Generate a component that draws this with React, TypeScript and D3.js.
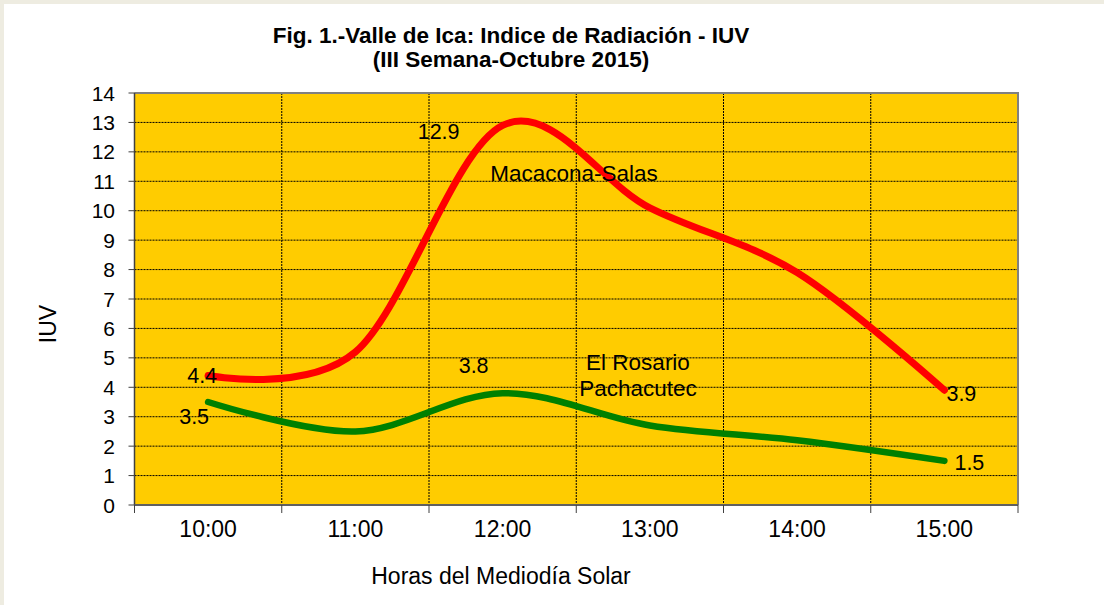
import React from "react";
import * as d3 from "d3";

const hours = ["10:00", "11:00", "12:00", "13:00", "14:00", "15:00"];
const macacona = [4.4, 5.2, 12.9, 10.1, 7.9, 3.9];
const rosario = [3.5, 2.5, 3.8, 2.7, 2.2, 1.5];
const yTicks = d3.range(0, 15);
const titleLines = ["Fig. 1.-Valle de Ica: Indice de Radiación - IUV", "(III Semana-Octubre 2015)"];

const W = 1104;
const H = 605;
const plot = { left: 134.5, right: 1018, top: 93, bottom: 505 };
const FONT = "'Liberation Sans', Arial, sans-serif";

export default function App() {
  const x = d3.scaleBand<string>().domain(hours).range([plot.left, plot.right]);
  const y = d3.scaleLinear().domain([0, 14]).range([plot.bottom, plot.top]);
  const cx = (h: string) => (x(h) as number) + x.bandwidth() / 2;
  const line = d3
    .line<number>()
    .x((_, i) => cx(hours[i]))
    .y((d) => y(d))
    .curve(d3.curveCardinal.tension(0));

  const boundaries = d3.range(0, hours.length + 1).map((i) => plot.left + i * x.bandwidth());

  const last = hours.length - 1;
  const lab = 21.5;
  return (
    <svg width={W} height={H} style={{ position: "absolute", left: 0, top: 0 }} fontFamily={FONT}>
      <rect x={0} y={0} width={W} height={H} fill="#EEECE1" />
      <rect x={4} y={4} width={W - 4} height={H - 4} fill="#FFFFFF" />
      {titleLines.map((t, i) => (
        <text key={i} x={511} y={43 + i * 24} textAnchor="middle" fontWeight="bold" fontSize={22.5} fill="#000">
          {t}
        </text>
      ))}
      <rect x={plot.left} y={plot.top} width={plot.right - plot.left} height={plot.bottom - plot.top} fill="#FFCC00" />
      {yTicks.slice(1).map((t) => (
        <line key={"gy" + t} x1={plot.left} x2={plot.right} y1={y(t)} y2={y(t)} stroke="#000" strokeWidth={1} strokeDasharray="2,1" />
      ))}
      {boundaries.slice(1, -1).map((b, i) => (
        <line key={"gx" + i} x1={b} x2={b} y1={plot.top} y2={plot.bottom} stroke="#000" strokeWidth={1} strokeDasharray="2,1" />
      ))}
      <path d={`M${plot.left},${plot.top}H${plot.right}V${plot.bottom}`} fill="none" stroke="#808080" strokeWidth={2} />
      <line x1={plot.left} x2={plot.left} y1={plot.top} y2={plot.bottom} stroke="#404040" strokeWidth={1.5} />
      <line x1={plot.left} x2={plot.right} y1={plot.bottom} y2={plot.bottom} stroke="#606060" strokeWidth={2} />
      {yTicks.map((t) => (
        <g key={"ty" + t}>
          <line x1={plot.left - 6} x2={plot.left} y1={y(t)} y2={y(t)} stroke="#404040" strokeWidth={1} />
          <text x={115} y={y(t)} dy="0.36em" textAnchor="end" fontSize={21} fill="#000">
            {t}
          </text>
        </g>
      ))}
      {boundaries.map((b, i) => (
        <line key={"tx" + i} x1={b} x2={b} y1={plot.bottom} y2={plot.bottom + 8} stroke="#404040" strokeWidth={1} />
      ))}
      {hours.map((h) => (
        <text key={h} x={cx(h)} y={537} textAnchor="middle" fontSize={23} fill="#000">
          {h}
        </text>
      ))}
      <text x={501} y={584} textAnchor="middle" fontSize={23} fill="#000">
        Horas del Mediodía Solar
      </text>
      <text transform={`translate(56,324) rotate(-90)`} textAnchor="middle" fontSize={23} fill="#000">
        IUV
      </text>
      <path d={line(rosario) || ""} fill="none" stroke="#008000" strokeWidth={6.5} strokeLinecap="round" />
      <path d={line(macacona) || ""} fill="none" stroke="#FF0000" strokeWidth={7} strokeLinecap="round" />
      <text x={cx(hours[0]) - 6} y={y(macacona[0])} dy="0.36em" textAnchor="middle" fontSize={lab}>{macacona[0]}</text>
      <text x={cx(hours[2]) - 64} y={y(macacona[2]) + 6} dy="0.36em" textAnchor="middle" fontSize={lab}>{macacona[2]}</text>
      <text x={cx(hours[last]) + 17} y={y(macacona[last]) + 3} dy="0.36em" textAnchor="middle" fontSize={lab}>{macacona[last]}</text>
      <text x={cx(hours[0]) - 14} y={y(rosario[0]) + 14} dy="0.36em" textAnchor="middle" fontSize={lab}>{rosario[0]}</text>
      <text x={cx(hours[2]) - 29} y={y(rosario[2]) - 28} dy="0.36em" textAnchor="middle" fontSize={lab}>{rosario[2]}</text>
      <text x={cx(hours[last]) + 25} y={y(rosario[last]) + 1} dy="0.36em" textAnchor="middle" fontSize={lab}>{rosario[last]}</text>
      <text x={574} y={173} dy="0.36em" textAnchor="middle" fontSize={22.5}>Macacona-Salas</text>
      <text x={638} y={362} dy="0.36em" textAnchor="middle" fontSize={22.5}>El Rosario</text>
      <text x={638} y={388} dy="0.36em" textAnchor="middle" fontSize={22.5}>Pachacutec</text>
    </svg>
  );
}
